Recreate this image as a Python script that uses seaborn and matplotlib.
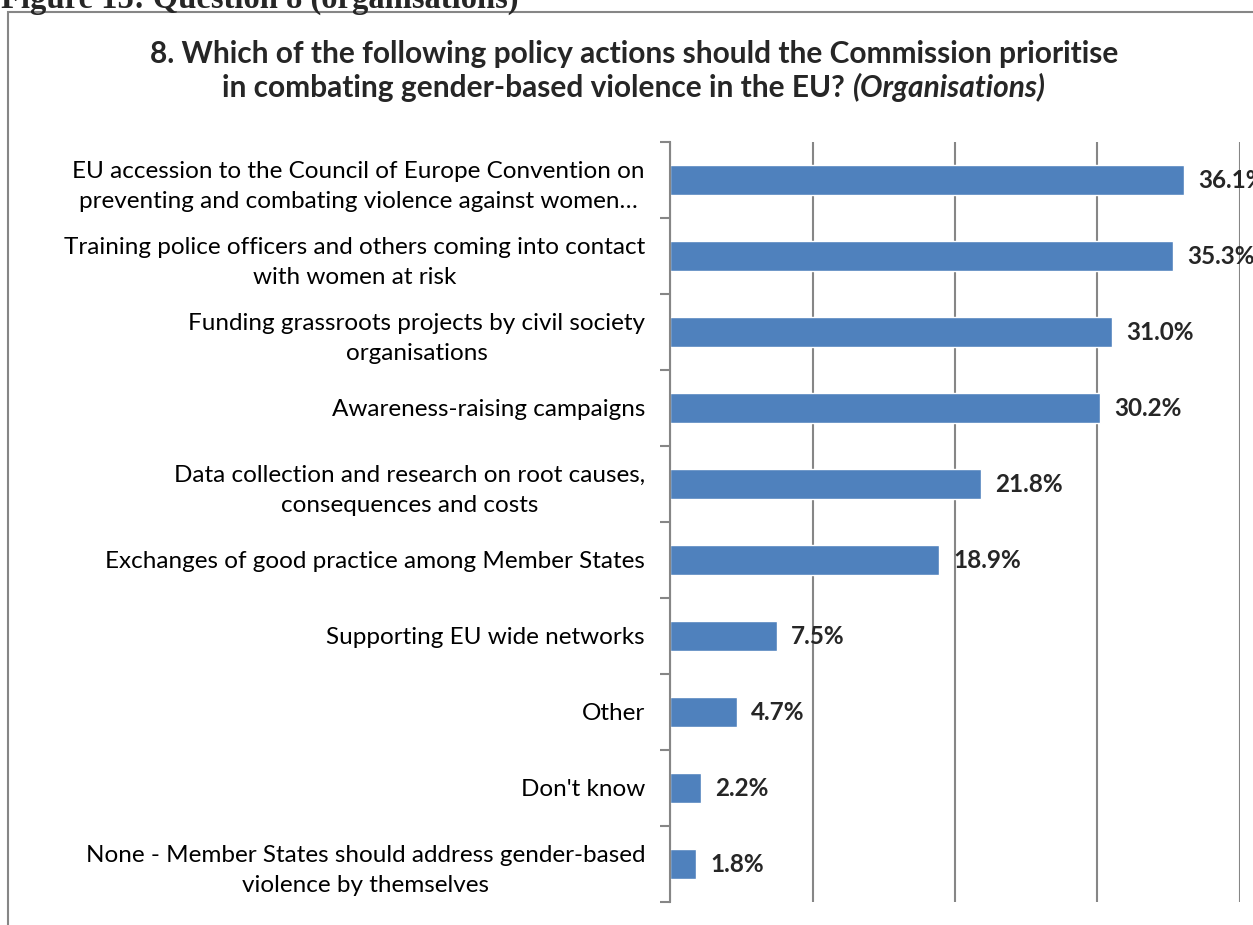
import matplotlib.pyplot as plt
import seaborn as sns
import pandas as pd
from matplotlib.patches import Rectangle

categorias = [
    "EU accession to the Council of Europe Convention on\npreventing and combating violence against women…",
    "Training police officers and others coming into contact\nwith women at risk",
    "Funding grassroots projects by civil society\norganisations",
    "Awareness-raising campaigns",
    "Data collection and research on root causes,\nconsequences and costs",
    "Exchanges of good practice among Member States",
    "Supporting EU wide networks",
    "Other",
    "Don't know",
    "None - Member States should address gender-based\nviolence by themselves",
]
valores = [36.1, 35.3, 31.0, 30.2, 21.8, 18.9, 7.5, 4.7, 2.2, 1.8]
grade_x = [0, 10, 20, 30, 40]

sns.set_theme(style="white")
plt.rcParams["font.family"] = ["Lato", "DejaVu Sans"]

df = pd.DataFrame({"acao": categorias, "pct": valores})

W, H = 1253, 925
fig = plt.figure(figsize=(W / 100, H / 100), dpi=100)
ax = fig.add_axes([670 / W, 1 - 902 / H, (1240 - 670) / W, 760 / H])

sns.barplot(data=df, y="acao", x="pct", color="#4F81BD", saturation=1,
            width=0.4, orient="h", ax=ax)

cinza = "#868686"
ax.set_xlim(0, 40)
ax.set_ylim(len(categorias) - 0.5, -0.5)
ax.set_xticks(grade_x)
ax.set_xticklabels([])
ax.tick_params(axis="x", length=0)
ax.grid(axis="x", color=cinza, linewidth=1.5)
ax.set_axisbelow(True)
for lado in ["top", "right", "bottom"]:
    ax.spines[lado].set_visible(False)
ax.spines["left"].set_color(cinza)
ax.spines["left"].set_linewidth(1.5)

ax.set_yticks(range(len(categorias)))
ax.set_yticklabels(categorias, fontsize=17.5, multialignment="center",
                   linespacing=1.5, color="black")
ax.set_yticks([i - 0.5 for i in range(len(categorias) + 1)], minor=True)
ax.tick_params(axis="y", which="major", length=0, pad=18)
ax.tick_params(axis="y", which="minor", length=7, width=1.5, color=cinza,
               direction="out", left=True)
ax.set_xlabel("")
ax.set_ylabel("")

for i, v in enumerate(valores):
    ax.text(v + 1.0, i, f"{v:.1f}%", va="center", ha="left",
            fontsize=17.5, fontweight="bold", clip_on=False)

# moldura do gráfico
fig.patches.append(Rectangle((8 / W, -0.1), 1.2, 1 - 12 / H + 0.1,
                             transform=fig.transFigure, fill=False,
                             edgecolor=cinza, linewidth=1.5))

# legenda da figura (cortada no topo)
fig.text(1 / W, 1 - 8 / H, "Figure 15: Question 8 (organisations)",
         family=["Liberation Serif"], fontweight="bold", fontsize=23.5,
         va="baseline", ha="left")

# título
fig.text(634 / W, 1 - 63 / H,
         "8. Which of the following policy actions should the Commission prioritise",
         ha="center", va="baseline", fontsize=21.5, fontweight="bold")

r = fig.canvas.get_renderer()
t1 = fig.text(0, 1 - 97 / H, "in combating gender-based violence in the EU? ",
              ha="left", va="baseline", fontsize=21.5, fontweight="bold")
t2 = fig.text(0, 1 - 97 / H, "(Organisations)", ha="left", va="baseline",
              fontsize=21.5, fontweight="bold", style="italic")
w1 = t1.get_window_extent(r).width
w2 = t2.get_window_extent(r).width
x0 = 634 - (w1 + w2) / 2
t1.set_x(x0 / W)
t2.set_x((x0 + w1) / W)

plt.savefig("out.png", dpi=100)
